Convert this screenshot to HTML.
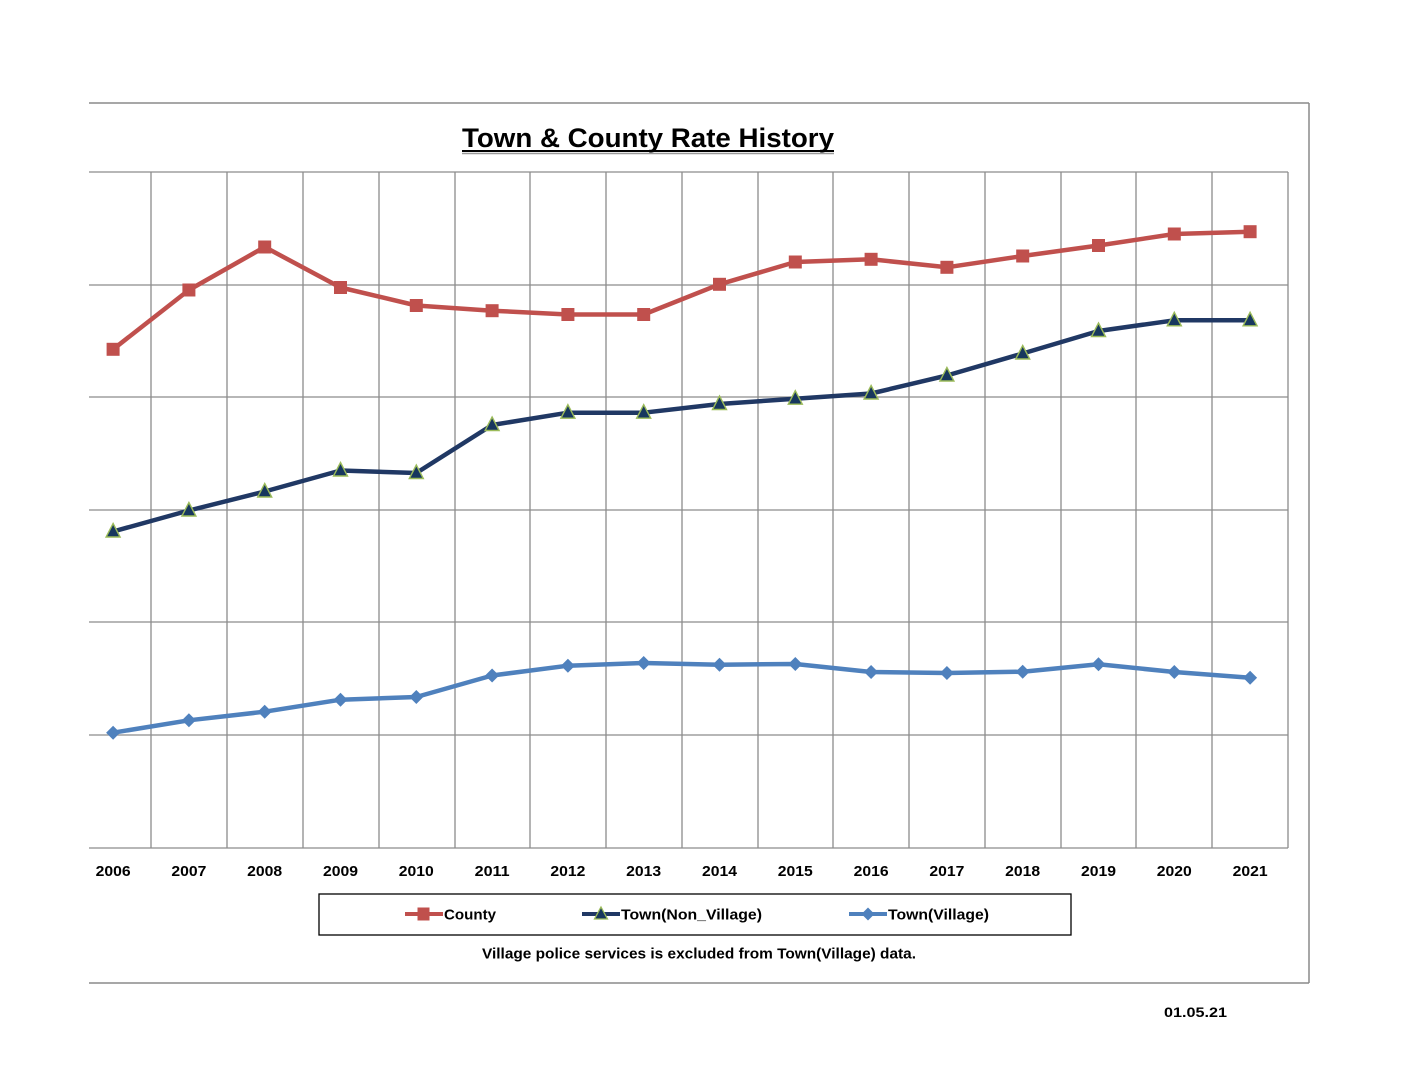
<!DOCTYPE html>
<html>
<head>
<meta charset="utf-8">
<style>
html,body{margin:0;padding:0;background:#fff;}
svg{display:block;}
text{font-family:"Liberation Sans",Arial,sans-serif;font-weight:bold;fill:#000;}
</style>
</head>
<body>
<svg width="1408" height="1088" viewBox="0 0 1408 1088" xmlns="http://www.w3.org/2000/svg">
<rect width="1408" height="1088" fill="#fff"/>
<!-- outer frame -->
<g stroke="#8a8a8a" stroke-width="1.5" fill="none">
<line x1="89" y1="103" x2="1309" y2="103"/>
<line x1="1309" y1="103" x2="1309" y2="983"/>
<line x1="89" y1="983" x2="1309" y2="983"/>
</g>
<!-- title -->
<text x="648" y="147" font-size="27" text-anchor="middle" textLength="372" lengthAdjust="spacingAndGlyphs">Town &amp; County Rate History</text>
<line x1="462" y1="151" x2="834" y2="151" stroke="#000" stroke-width="2"/>
<line x1="462" y1="153.5" x2="834" y2="153.5" stroke="#999" stroke-width="1.5"/>
<!-- gridlines -->
<g stroke="#8c8c8c" stroke-width="1.3" fill="none">
<line x1="89" y1="172" x2="1288" y2="172"/>
<line x1="89" y1="285" x2="1288" y2="285"/>
<line x1="89" y1="397" x2="1288" y2="397"/>
<line x1="89" y1="510" x2="1288" y2="510"/>
<line x1="89" y1="622" x2="1288" y2="622"/>
<line x1="89" y1="735" x2="1288" y2="735"/>
<line x1="89" y1="848" x2="1288" y2="848"/>
<line x1="151" y1="172" x2="151" y2="848"/>
<line x1="227" y1="172" x2="227" y2="848"/>
<line x1="303" y1="172" x2="303" y2="848"/>
<line x1="379" y1="172" x2="379" y2="848"/>
<line x1="455" y1="172" x2="455" y2="848"/>
<line x1="530" y1="172" x2="530" y2="848"/>
<line x1="606" y1="172" x2="606" y2="848"/>
<line x1="682" y1="172" x2="682" y2="848"/>
<line x1="758" y1="172" x2="758" y2="848"/>
<line x1="833" y1="172" x2="833" y2="848"/>
<line x1="909" y1="172" x2="909" y2="848"/>
<line x1="985" y1="172" x2="985" y2="848"/>
<line x1="1061" y1="172" x2="1061" y2="848"/>
<line x1="1136" y1="172" x2="1136" y2="848"/>
<line x1="1212" y1="172" x2="1212" y2="848"/>
<line x1="1288" y1="172" x2="1288" y2="848"/>
</g>
<!-- County -->
<polyline fill="none" stroke="#C0504D" stroke-width="4.5" stroke-linejoin="round"
points="113.1,349.3 188.9,290 264.7,247 340.5,287.5 416.3,305.5 492.1,310.7 567.9,314.5 643.7,314.5 719.5,284.3 795.3,262 871.1,259.3 946.9,267.3 1022.7,256 1098.5,245.5 1174.3,234 1250.1,231.7"/>
<g fill="#C0504D">
<rect x="106.6" y="342.8" width="13" height="13"/>
<rect x="182.4" y="283.5" width="13" height="13"/>
<rect x="258.2" y="240.5" width="13" height="13"/>
<rect x="334" y="281" width="13" height="13"/>
<rect x="409.8" y="299" width="13" height="13"/>
<rect x="485.6" y="304.2" width="13" height="13"/>
<rect x="561.4" y="308" width="13" height="13"/>
<rect x="637.2" y="308" width="13" height="13"/>
<rect x="713" y="277.8" width="13" height="13"/>
<rect x="788.8" y="255.5" width="13" height="13"/>
<rect x="864.6" y="252.8" width="13" height="13"/>
<rect x="940.4" y="260.8" width="13" height="13"/>
<rect x="1016.2" y="249.5" width="13" height="13"/>
<rect x="1092" y="239" width="13" height="13"/>
<rect x="1167.8" y="227.5" width="13" height="13"/>
<rect x="1243.6" y="225.2" width="13" height="13"/>
</g>
<!-- Town(Non_Village) -->
<polyline fill="none" stroke="#203864" stroke-width="4.5" stroke-linejoin="round"
points="113.1,531.5 188.9,510.5 264.7,491.5 340.5,470.5 416.3,473 492.1,425 567.9,412.7 643.7,412.7 719.5,404 795.3,398.7 871.1,393.5 946.9,375.5 1022.7,353.5 1098.5,331 1174.3,320.3 1250.1,320.3"/>
<g fill="#17375E" stroke="#9BBB59" stroke-width="1.4" stroke-linejoin="miter">
<polygon points="113.1,523.5 120.1,537 106.1,537"/>
<polygon points="188.9,502.5 195.9,516 181.9,516"/>
<polygon points="264.7,483.5 271.7,497 257.7,497"/>
<polygon points="340.5,462.5 347.5,476 333.5,476"/>
<polygon points="416.3,465 423.3,478.5 409.3,478.5"/>
<polygon points="492.1,417 499.1,430.5 485.1,430.5"/>
<polygon points="567.9,404.7 574.9,418.2 560.9,418.2"/>
<polygon points="643.7,404.7 650.7,418.2 636.7,418.2"/>
<polygon points="719.5,396 726.5,409.5 712.5,409.5"/>
<polygon points="795.3,390.7 802.3,404.2 788.3,404.2"/>
<polygon points="871.1,385.5 878.1,399 864.1,399"/>
<polygon points="946.9,367.5 953.9,381 939.9,381"/>
<polygon points="1022.7,345.5 1029.7,359 1015.7,359"/>
<polygon points="1098.5,323 1105.5,336.5 1091.5,336.5"/>
<polygon points="1174.3,312.3 1181.3,325.8 1167.3,325.8"/>
<polygon points="1250.1,312.3 1257.1,325.8 1243.1,325.8"/>
</g>
<!-- Town(Village) -->
<polyline fill="none" stroke="#4F81BD" stroke-width="4.5" stroke-linejoin="round"
points="113.1,732.7 188.9,720.3 264.7,711.7 340.5,699.7 416.3,697 492.1,675.5 567.9,665.7 643.7,663 719.5,664.7 795.3,664 871.1,672 946.9,673 1022.7,671.7 1098.5,664.3 1174.3,672 1250.1,677.7"/>
<g fill="#4F81BD">
<polygon points="113.1,725.7 120.1,732.7 113.1,739.7 106.1,732.7"/>
<polygon points="188.9,713.3 195.9,720.3 188.9,727.3 181.9,720.3"/>
<polygon points="264.7,704.7 271.7,711.7 264.7,718.7 257.7,711.7"/>
<polygon points="340.5,692.7 347.5,699.7 340.5,706.7 333.5,699.7"/>
<polygon points="416.3,690 423.3,697 416.3,704 409.3,697"/>
<polygon points="492.1,668.5 499.1,675.5 492.1,682.5 485.1,675.5"/>
<polygon points="567.9,658.7 574.9,665.7 567.9,672.7 560.9,665.7"/>
<polygon points="643.7,656 650.7,663 643.7,670 636.7,663"/>
<polygon points="719.5,657.7 726.5,664.7 719.5,671.7 712.5,664.7"/>
<polygon points="795.3,657 802.3,664 795.3,671 788.3,664"/>
<polygon points="871.1,665 878.1,672 871.1,679 864.1,672"/>
<polygon points="946.9,666 953.9,673 946.9,680 939.9,673"/>
<polygon points="1022.7,664.7 1029.7,671.7 1022.7,678.7 1015.7,671.7"/>
<polygon points="1098.5,657.3 1105.5,664.3 1098.5,671.3 1091.5,664.3"/>
<polygon points="1174.3,665 1181.3,672 1174.3,679 1167.3,672"/>
<polygon points="1250.1,670.7 1257.1,677.7 1250.1,684.7 1243.1,677.7"/>
</g>
<!-- x labels -->
<g font-size="15" text-anchor="middle">
<text x="113.1" y="876" textLength="35" lengthAdjust="spacingAndGlyphs">2006</text>
<text x="188.9" y="876" textLength="35" lengthAdjust="spacingAndGlyphs">2007</text>
<text x="264.7" y="876" textLength="35" lengthAdjust="spacingAndGlyphs">2008</text>
<text x="340.5" y="876" textLength="35" lengthAdjust="spacingAndGlyphs">2009</text>
<text x="416.3" y="876" textLength="35" lengthAdjust="spacingAndGlyphs">2010</text>
<text x="492.1" y="876" textLength="35" lengthAdjust="spacingAndGlyphs">2011</text>
<text x="567.9" y="876" textLength="35" lengthAdjust="spacingAndGlyphs">2012</text>
<text x="643.7" y="876" textLength="35" lengthAdjust="spacingAndGlyphs">2013</text>
<text x="719.5" y="876" textLength="35" lengthAdjust="spacingAndGlyphs">2014</text>
<text x="795.3" y="876" textLength="35" lengthAdjust="spacingAndGlyphs">2015</text>
<text x="871.1" y="876" textLength="35" lengthAdjust="spacingAndGlyphs">2016</text>
<text x="946.9" y="876" textLength="35" lengthAdjust="spacingAndGlyphs">2017</text>
<text x="1022.7" y="876" textLength="35" lengthAdjust="spacingAndGlyphs">2018</text>
<text x="1098.5" y="876" textLength="35" lengthAdjust="spacingAndGlyphs">2019</text>
<text x="1174.3" y="876" textLength="35" lengthAdjust="spacingAndGlyphs">2020</text>
<text x="1250.1" y="876" textLength="35" lengthAdjust="spacingAndGlyphs">2021</text>
</g>
<!-- legend -->
<rect x="319" y="894" width="752" height="41" fill="#fff" stroke="#000" stroke-width="1.3"/>
<line x1="405" y1="914" x2="443" y2="914" stroke="#C0504D" stroke-width="4"/>
<rect x="417.5" y="907.5" width="12" height="13" fill="#C0504D"/>
<text x="444" y="919.5" font-size="15" textLength="52" lengthAdjust="spacingAndGlyphs">County</text>
<line x1="582" y1="914" x2="620" y2="914" stroke="#203864" stroke-width="4"/>
<polygon points="601,907 607.5,919 594.5,919" fill="#17375E" stroke="#9BBB59" stroke-width="1.3"/>
<text x="621" y="919.5" font-size="15" textLength="141" lengthAdjust="spacingAndGlyphs">Town(Non_Village)</text>
<line x1="849" y1="914" x2="887" y2="914" stroke="#4F81BD" stroke-width="4"/>
<polygon points="868,907.5 874.5,914 868,920.5 861.5,914" fill="#4F81BD"/>
<text x="888" y="919.5" font-size="15" textLength="101" lengthAdjust="spacingAndGlyphs">Town(Village)</text>
<!-- footnote -->
<text x="482" y="958.5" font-size="15" textLength="434" lengthAdjust="spacingAndGlyphs">Village police services is excluded from Town(Village) data.</text>
<!-- date -->
<text x="1164" y="1017" font-size="14" textLength="63" lengthAdjust="spacingAndGlyphs">01.05.21</text>
</svg>
</body>
</html>
